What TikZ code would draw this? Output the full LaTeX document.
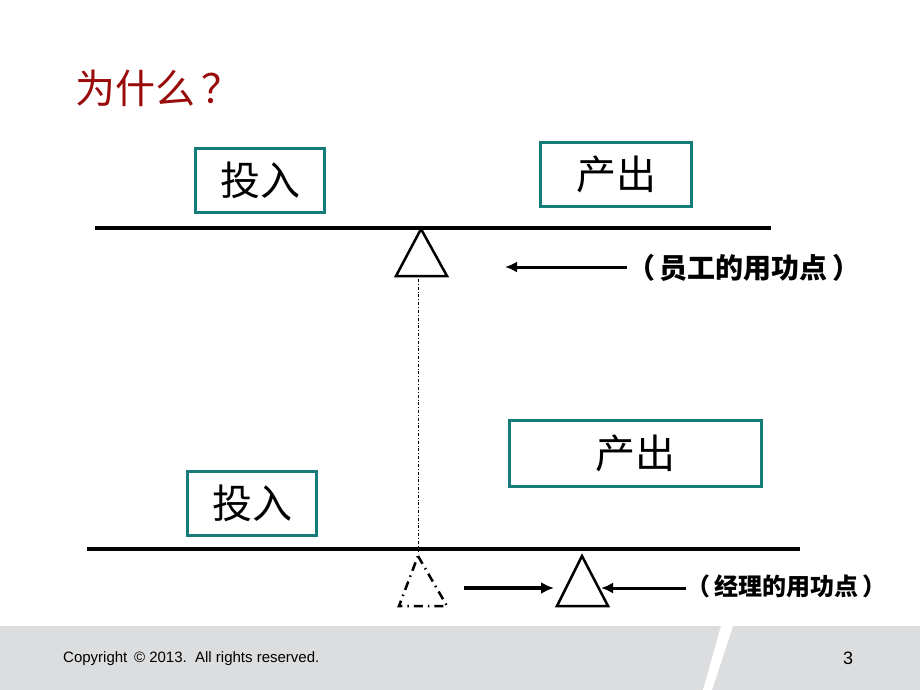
\documentclass[tikz,border=0pt]{standalone}
\usepackage{fontspec}
\usepackage{tikz}
\usetikzlibrary{arrows.meta}
\setmainfont{Liberation Sans}
\newfontfamily\cjk{Noto Sans CJK SC}
\definecolor{titlered}{RGB}{153,10,10}
\definecolor{boxteal}{RGB}{22,124,122}
\definecolor{footgray}{RGB}{220,221,223}

\begin{document}
\begin{tikzpicture}[
		x=1pt,y=-1pt,
		box/.style={draw=boxteal,line width=3pt,inner sep=0pt,font=\cjk\fontsize{40}{40}\selectfont},
		beam/.style={line width=4pt},
		pivot/.style={line width=2.5pt,line join=miter},
		note/.style={font=\cjk\bfseries\fontsize{28}{28}\selectfont,inner sep=0pt,anchor=west},
		pointer/.style={line width=3pt,-{Latex[length=12pt,width=11pt]}}
		]
		% page and footer
		\useasboundingbox (0,0) rectangle (920,690);
		\fill[white] (0,0) rectangle (920,690);
		\fill[footgray] (0,626) rectangle (920,690);
		\fill[white] (721,626) -- (733,626) -- (712,690) -- (703,690) -- cycle;
		\node[anchor=west,inner sep=0pt,font=\fontsize{15}{15}\selectfont] (copy) at (63,659) {Copyright \,\textcopyright\ 2013.\ \ All rights reserved.};
		\node[inner sep=0pt,font=\fontsize{18}{18}\selectfont] (page) at (848,658) {3};
		
		\node[anchor=west,inner sep=0pt,text=titlered,font=\cjk\fontsize{40}{40}\selectfont] (title) at (75,88) {为什么\,？};
		
		% top balance
		\node[box,minimum width=129pt,minimum height=64pt] (in1) at (260,180.5) {投入};
		\node[box,minimum width=151pt,minimum height=64pt] (out1) at (616,174.5) {产出};
		\draw[beam] (95,228) -- (771,228);
		\draw[pivot] (421,229) -- (447,276) -- (396,276) -- cycle;
		\coordinate (tip1) at (505,267);
		\node[note] (emp) at (627,268) {（\,员工的用功点\,）};
		\draw[pointer] (emp.west |- tip1) -- (tip1);
		\draw[line width=0.7pt,dash dot] (418,279) -- (418,552);
		
		% bottom balance
		\node[box,minimum width=252pt,minimum height=66pt] (out2) at (635.5,453.5) {产出};
		\node[box,minimum width=129pt,minimum height=64pt] (in2) at (252,503.5) {投入};
		\draw[beam] (87,549) -- (800,549);
		\draw[pivot,dash pattern=on 9pt off 5pt on 1.5pt off 5pt] (418,556) -- (447,606) -- (399,606) -- cycle;
		\draw[pivot] (582,556) -- (608,606) -- (557,606) -- cycle;
		\coordinate (from2) at (464,588);
		\coordinate (tip2) at (554,588);
		\draw[line width=4.5pt,-{Latex[length=13pt,width=12pt]}] (from2) -- (tip2);
		\node[note,font=\cjk\bfseries\fontsize{24}{24}\selectfont] (mgr) at (686,586) {（\,经理的用功点\,）};
		\coordinate (tip3) at (601,588);
		\draw[pointer] (mgr.west |- tip3) -- (tip3);
		
		\end{tikzpicture}
\end{document}
